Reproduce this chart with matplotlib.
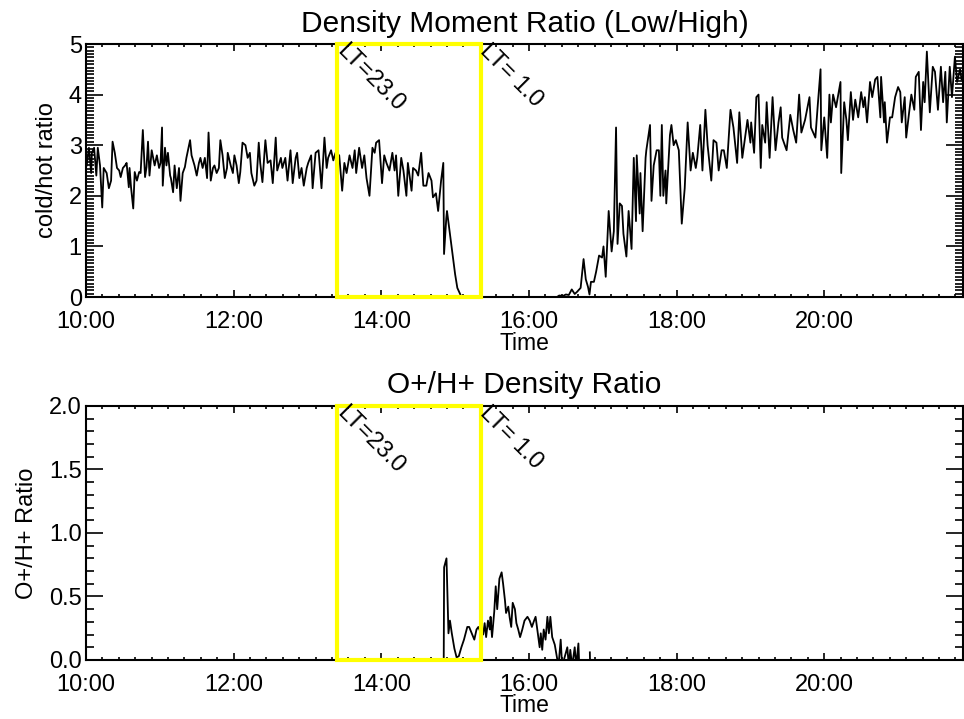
import numpy as np
import matplotlib
matplotlib.use('Agg')
import matplotlib.pyplot as plt
from matplotlib.patches import Rectangle
from matplotlib.ticker import MultipleLocator, FuncFormatter

plt.rcParams['font.family'] = ['Liberation Sans', 'DejaVu Sans']

# ---- density moment ratio (cold/hot), time in decimal hours ----
hours_a = [10.01, 10.04, 10.07, 10.08, 10.11, 10.14, 10.16, 10.19, 10.22, 10.24,
           10.28, 10.31, 10.34, 10.36, 10.39, 10.42, 10.45, 10.47,
           10.50, 10.53, 10.55, 10.58, 10.59, 10.61, 10.64, 10.66, 10.69, 10.72, 10.74,
           10.77, 10.80, 10.82, 10.84, 10.86, 10.89, 10.93, 10.96, 10.99,
           11.01, 11.03, 11.04, 11.07, 11.09, 11.11, 11.14, 11.15, 11.18, 11.20, 11.23, 11.26,
           11.28, 11.31, 11.34, 11.36, 11.41, 11.43, 11.47, 11.50,
           11.53, 11.55, 11.58, 11.61, 11.64, 11.66, 11.69, 11.72, 11.74, 11.77, 11.80, 11.82,
           11.85, 11.88, 11.91, 11.92, 11.96, 11.99,
           12.01, 12.04, 12.07, 12.09, 12.12, 12.16, 12.19, 12.22, 12.24, 12.28, 12.31, 12.34,
           12.36, 12.39]
ratio_a = [2.6, 2.95, 2.45, 2.85, 2.95, 2.4, 2.95, 2.6, 1.77, 2.55,
           2.45, 2.15, 2.3, 3.07, 2.85, 2.55, 2.5, 2.37,
           2.55, 2.6, 2.65, 2.17, 2.55, 2.17, 1.75, 2.47, 2.3, 2.47, 2.45,
           3.3, 2.37, 2.57, 3.07, 2.4, 2.9, 2.6, 2.8, 2.55,
           2.65, 3.35, 2.2, 2.95, 2.6, 2.85, 2.4, 2.35, 2.07, 2.6, 2.15, 2.55,
           1.9, 2.45, 2.57, 2.75, 3.1, 2.8, 2.6, 2.4,
           2.65, 2.75, 2.55, 2.75, 2.35, 3.25, 2.3, 2.55, 2.6, 2.45, 2.55, 3.1,
           2.8, 2.35, 2.55, 2.85, 2.6, 2.45,
           2.8, 2.6, 2.25, 2.47, 3.05, 3.0, 2.75, 2.85, 2.45, 2.2, 2.3, 3.05,
           2.65, 2.27]

hours_b = [12.43, 12.46, 12.50, 12.53, 12.57, 12.59, 12.64, 12.66, 12.70, 12.73,
           12.77, 12.80, 12.84, 12.86, 12.89, 12.92, 12.95, 12.99,
           13.01, 13.05, 13.07, 13.11, 13.15, 13.19, 13.23, 13.26, 13.28, 13.32, 13.35, 13.38,
           13.43, 13.47, 13.50, 13.53, 13.57, 13.61, 13.64, 13.66, 13.70, 13.74,
           13.77, 13.80, 13.84, 13.88, 13.91, 13.93, 13.97,
           14.01, 14.04, 14.07, 14.11, 14.15, 14.18, 14.20, 14.23, 14.27, 14.30,
           14.34, 14.36, 14.41, 14.43, 14.47, 14.50, 14.54, 14.57, 14.61, 14.64,
           14.68, 14.70, 14.74, 14.77]
ratio_b = [3.1, 2.65, 2.7, 2.25, 3.15, 2.5, 2.75, 2.55, 2.75, 2.3,
           2.9, 2.25, 2.75, 2.85, 2.35, 2.55, 2.2, 2.55,
           2.65, 2.8, 2.15, 2.85, 2.9, 2.15, 3.15, 2.55, 2.75, 2.9, 2.7, 2.85,
           2.8, 2.1, 2.65, 2.45, 2.8, 2.55, 2.9, 2.45, 2.95, 2.55,
           2.8, 2.35, 2.0, 2.95, 2.85, 3.05, 3.1,
           2.25, 2.8, 2.65, 2.5, 2.85, 2.5, 2.8, 2.0, 2.75, 2.5,
           2.0, 2.65, 2.1, 2.55, 2.5, 2.4, 2.85, 2.2, 2.2,
           2.45, 2.3, 1.97, 2.05, 1.7]

hours_c = [14.81, 14.84, 14.85, 14.88, 14.89, 14.93, 14.96, 15.00, 15.03, 15.08,
           15.19, 15.32, 15.46, 15.59, 15.73, 15.86, 16.00, 16.14, 16.27, 16.38,
           16.41, 16.46, 16.50, 16.54, 16.58, 16.62, 16.65, 16.70,
           16.74, 16.77, 16.80, 16.82, 16.84, 16.88, 16.91, 16.95, 16.99,
           17.01, 17.04, 17.08, 17.12, 17.15]
ratio_c = [2.3, 2.65, 0.85, 1.55, 1.7, 1.25, 0.9, 0.45, 0.18, 0.02,
           0.0, 0.0, 0.0, 0.0, 0.0, 0.0, 0.0, 0.0, 0.0, 0.0,
           0.03, 0.02, 0.05, 0.04, 0.15, 0.06, 0.1, 0.18,
           0.75, 0.35, 0.2, 0.05, 0.3, 0.3, 0.5, 0.82, 0.78,
           1.0, 0.4, 1.7, 0.9, 1.3]

hours_d = [17.18, 17.20, 17.23, 17.26, 17.28, 17.32, 17.35, 17.39, 17.42, 17.45,
           17.46, 17.50, 17.51, 17.54, 17.58, 17.59, 17.64, 17.66, 17.69, 17.73,
           17.76, 17.78, 17.80, 17.82, 17.85, 17.86, 17.91, 17.93, 17.96, 17.99,
           18.03, 18.07, 18.11, 18.15, 18.19, 18.22, 18.26, 18.28, 18.32, 18.35,
           18.39, 18.42, 18.47, 18.50, 18.54, 18.57, 18.61]
ratio_d = [3.35, 1.05, 1.85, 1.8, 1.25, 0.8, 1.7, 0.95, 2.75, 1.5,
           2.8, 1.65, 2.45, 1.3, 2.75, 2.9, 3.4, 1.9, 2.6, 2.9,
           2.9, 2.0, 3.4, 2.0, 2.5, 1.85, 3.2, 3.4, 3.0, 3.1,
           2.9, 1.45, 2.15, 3.45, 2.5, 2.85, 2.55, 2.75, 3.4, 2.5,
           3.7, 3.0, 2.3, 3.1, 3.05, 2.5, 2.9]

hours_e = [18.64, 18.68, 18.73, 18.77, 18.82, 18.85, 18.89, 18.96, 19.00, 19.01,
           19.05, 19.08, 19.11, 19.14, 19.16, 19.20, 19.22, 19.26, 19.30, 19.34,
           19.38, 19.41, 19.43, 19.49, 19.54, 19.58, 19.62, 19.66, 19.69, 19.74,
           19.80, 19.82, 19.88, 19.91, 19.95, 19.96, 20.00, 20.04, 20.07, 20.09,
           20.12, 20.16, 20.22, 20.23, 20.27, 20.30]
ratio_e = [2.9, 2.55, 3.7, 3.35, 2.65, 3.65, 2.75, 3.5, 3.05, 3.45,
           2.85, 3.95, 4.0, 2.55, 3.4, 3.05, 3.85, 2.75, 3.95, 2.9,
           3.45, 3.75, 3.15, 2.9, 3.6, 3.3, 3.05, 4.0, 3.25, 3.5,
           3.95, 3.35, 3.15, 3.75, 4.5, 2.9, 3.55, 2.75, 4.0, 3.45,
           4.0, 3.75, 4.25, 2.45, 3.85, 3.5]

hours_f = [20.32, 20.36, 20.39, 20.42, 20.46, 20.50, 20.53, 20.55, 20.58, 20.62,
           20.65, 20.69, 20.72, 20.76, 20.77, 20.81, 20.82, 20.85, 20.89, 20.92,
           20.96, 21.00, 21.03, 21.05, 21.09, 21.11, 21.15, 21.18, 21.22, 21.24,
           21.28, 21.31, 21.34, 21.36, 21.39, 21.43, 21.47, 21.50, 21.54, 21.58,
           21.61, 21.64, 21.66, 21.70, 21.73, 21.76, 21.77, 21.80, 21.84, 21.86]
ratio_f = [3.1, 4.05, 3.5, 3.9, 3.55, 4.05, 3.75, 3.95, 3.45, 4.25,
           3.95, 4.3, 4.35, 3.55, 4.35, 3.45, 3.85, 3.05, 3.55, 3.55,
           3.95, 4.15, 4.05, 3.45, 3.95, 3.15, 3.65, 4.0, 3.7, 4.35,
           4.45, 3.3, 4.25, 3.85, 4.85, 3.65, 4.55, 4.45, 3.7, 4.55,
           3.85, 4.45, 3.45, 4.55, 3.95, 4.55, 4.75, 4.25, 4.5, 4.3]

# ---- O+/H+ density ratio ----
ohp_hours = [14.845, 14.851, 14.883, 14.91, 14.93, 14.955, 14.99, 15.02, 15.05, 15.085,
             15.12, 15.165, 15.19, 15.225, 15.26, 15.29, 15.315, 15.35, 15.38, 15.40,
             15.42, 15.445, 15.47, 15.48, 15.50, 15.53, 15.55, 15.57, 15.60, 15.63,
             15.65, 15.675, 15.69, 15.72, 15.74, 15.76, 15.78, 15.81, 15.83, 15.855,
             15.88, 15.91, 15.94, 15.98, 16.01, 16.04, 16.07, 16.09, 16.12, 16.145,
             16.16, 16.18, 16.20, 16.225, 16.25, 16.27, 16.29, 16.315, 16.35, 16.40,
             16.43, 16.45, 16.52, 16.54, 16.56, 16.585, 16.62, 16.64, 16.67, 16.685,
             16.75, 16.825, 16.83]
ohp_ratio = [-0.1, 0.73, 0.80, 0.21, 0.31, 0.21, 0.09, 0.02, 0.03, 0.10,
             0.16, 0.26, 0.26, 0.21, 0.16, 0.24, 0.26, 0.21, 0.20, 0.29,
             0.18, 0.31, 0.24, 0.34, 0.18, 0.38, 0.58, 0.40, 0.64, 0.69,
             0.60, 0.47, 0.37, 0.42, 0.33, 0.26, 0.45, 0.40, 0.29, 0.24,
             0.18, 0.24, 0.31, 0.34, 0.31, 0.26, 0.31, 0.34, 0.21, 0.10,
             0.21, 0.08, 0.24, 0.16, 0.34, 0.21, 0.34, 0.18, 0.12, -0.05,
             0.16, -0.05, 0.10, -0.05, 0.08, -0.05, 0.10, -0.05, 0.13, -0.1,
             np.nan, 0.06, -0.1]

# local time markers
lt_hours = [13.405, 15.347]
lt_labels = ['LT=23.0', 'LT= 1.0']

top_hours = hours_a + hours_b + hours_c + hours_d + hours_e + hours_f
top_ratio = ratio_a + ratio_b + ratio_c + ratio_d + ratio_e + ratio_f


def hhmm(h, pos):
    hh = int(h + 1e-6)
    mm = int(round((h - hh) * 60))
    return f"{hh:02d}:{mm:02d}"


def style(ax, ymax, ymajor, yminor, fmt):
    ax.set_xlim(10, 21.88)
    ax.set_ylim(0, ymax)
    ax.xaxis.set_major_locator(MultipleLocator(2))
    ax.xaxis.set_minor_locator(MultipleLocator(2 / 9))
    ax.xaxis.set_major_formatter(FuncFormatter(hhmm))
    ax.yaxis.set_major_locator(MultipleLocator(ymajor))
    ax.yaxis.set_minor_locator(MultipleLocator(yminor))
    ax.yaxis.set_major_formatter(fmt)
    ax.tick_params(which='both', direction='in', top=True, right=True,
                   width=1.2, labelsize=17, color='black')
    ax.tick_params(axis='x', which='major', length=5, pad=10)
    ax.tick_params(axis='x', which='minor', length=2.5)
    ax.tick_params(axis='y', which='major', length=12, pad=3)
    ax.tick_params(axis='y', which='minor', length=6)
    for s in ax.spines.values():
        s.set_linewidth(1.5)
    ax.set_xlabel('Time', fontsize=16.5, labelpad=-1)


def lt_box(ax, ymax):
    x0, x1 = lt_hours
    ax.add_patch(Rectangle((x0, 0), x1 - x0, ymax, fill=False,
                           edgecolor='#FFFF00', lw=3, zorder=5, clip_on=False))
    for h, lab in zip(lt_hours, lt_labels):
        ax.text(h + 0.14, ymax * 1.015, lab, rotation=-45, rotation_mode='anchor',
                ha='left', va='top', fontsize=17, zorder=6)


fig = plt.figure(figsize=(9.64, 7.19), dpi=100)
ax1 = fig.add_axes([0.0892, 0.5869, 0.9098, 0.3519])
ax2 = fig.add_axes([0.0892, 0.0821, 0.9098, 0.3533])

ax1.plot(top_hours, top_ratio, color='black', lw=1.3)
style(ax1, 5, 1, 1 / 15, FuncFormatter(lambda v, p: f"{v:.0f}"))
lt_box(ax1, 5)
ax1.set_ylabel('cold/hot ratio', fontsize=17, labelpad=8)
ax1.set_title('Density Moment Ratio (Low/High)', fontsize=21.5, pad=9)

ax2.plot(ohp_hours, ohp_ratio, color='black', lw=1.3)
style(ax2, 2, 0.5, 0.1, FuncFormatter(lambda v, p: f"{v:.1f}"))
lt_box(ax2, 2)
ax2.set_ylabel('O+/H+ Ratio', fontsize=17, labelpad=8)
ax2.set_title('O+/H+ Density Ratio', fontsize=21.5, pad=9)

fig.savefig('out.png', dpi=100)
